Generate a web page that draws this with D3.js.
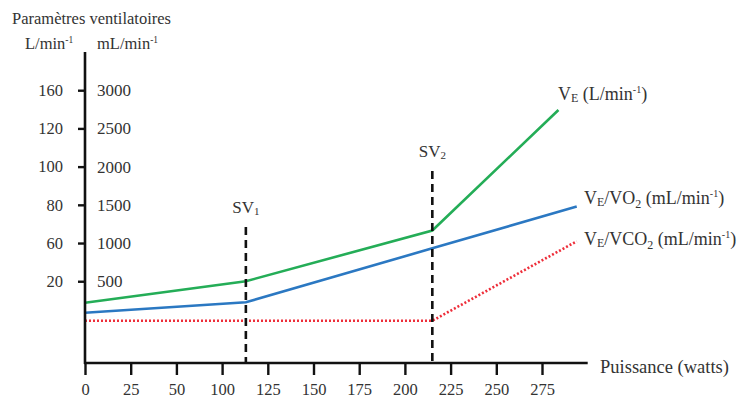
<!DOCTYPE html>
<html><head><meta charset="utf-8">
<script src="https://cdn.jsdelivr.net/npm/d3@7"></script>
</head>
<body style="margin:0">
<svg id="c" width="745" height="404"></svg>
<script>
// Data (x in watts as labelled, y in mL/min units of the right scale)
const xTicks = [0,25,50,100,125,150,175,200,225,250,275];
const yTicksML = [500,1000,1500,2000,2500,3000];
const yTicksL = [20,60,80,100,120,160];
const watts = [0,113,215,284];
const ve = [219,500,1164,2741];
const wattsVO2 = [0,113,215,294];
const veVO2 = [88,224,931,1478];
const wattsVCO2 = [0,113,215,294];
const veVCO2 = [-17,-17,-17,1023];
const thresholds = [{name:"SV",sub:"1",w:113},{name:"SV",sub:"2",w:215}];

const FONT = '"Liberation Serif"';
const TXT = "#333";
const svg = d3.select("#c");
const x0 = 85, step = 45.7;
const x = d3.scaleLinear().domain([0,50,100,275]).range([x0, x0+2*step, x0+3*step, x0+10*step]);
const y = d3.scaleLinear().domain([-570,3500]).range([363,52]);
const axisY = y(-570);

// lines
const line = d3.line().x(d=>x(d[0])).y(d=>y(d[1]));
svg.append("path").datum(wattsVCO2.map((w,i)=>[w,veVCO2[i]])).attr("d",line)
  .attr("fill","none").attr("stroke","#ee2e3a").attr("stroke-width",2.6).attr("stroke-dasharray","2,2");
svg.append("path").datum(wattsVO2.map((w,i)=>[w,veVO2[i]])).attr("d",line)
  .attr("fill","none").attr("stroke","#2b78c2").attr("stroke-width",2.6);
svg.append("path").datum(watts.map((w,i)=>[w,ve[i]])).attr("d",line)
  .attr("fill","none").attr("stroke","#24ad57").attr("stroke-width",2.6);

// thresholds
const thTop = [227,171];
thresholds.forEach((t,i)=>{
  svg.append("line").attr("x1",x(t.w)).attr("x2",x(t.w)).attr("y1",thTop[i]).attr("y2",axisY)
    .attr("stroke","#111").attr("stroke-width",2.6).attr("stroke-dasharray","8,5");
  const tx = svg.append("text").attr("x",x(t.w)).attr("y",thTop[i]-14).attr("text-anchor","middle")
    .style("font-size","17px");
  tx.append("tspan").text(t.name);
  tx.append("tspan").style("font-size","11px").attr("dy",2).text(t.sub);
});

// x axis
const xAxis = d3.axisBottom(x).tickValues(xTicks).tickFormat(d3.format("d")).tickSize(12).tickPadding(8).tickSizeOuter(0);
const gx = svg.append("g").attr("transform",`translate(0,${axisY})`).call(xAxis);
gx.attr("font-family",null).attr("font-size",null);
gx.select(".domain").remove();
gx.append("line").attr("x1",x0-1).attr("x2",x(300)).attr("stroke","#111").attr("stroke-width",2.6);
gx.selectAll(".tick line").attr("stroke","#111").attr("stroke-width",2.4);
gx.selectAll(".tick text").style("font-size","16.5px");

// y axis left
const yAxis = d3.axisLeft(y).tickValues(yTicksML).tickFormat((d,i)=>yTicksL[i]).tickSize(7).tickPadding(15).tickSizeOuter(0);
const gy = svg.append("g").attr("transform",`translate(${x0},0)`).call(yAxis);
gy.attr("font-family",null).attr("font-size",null);
gy.select(".domain").remove();
gy.append("line").attr("y1",y(3500)).attr("y2",axisY+1).attr("stroke","#111").attr("stroke-width",2.6);
gy.selectAll(".tick line").attr("stroke","#111").attr("stroke-width",2.4);
gy.selectAll(".tick text").style("font-size","16.5px");

// y labels right
const gy2 = svg.append("g").attr("transform",`translate(${x0},0)`)
  .call(d3.axisRight(y).tickValues(yTicksML).tickFormat(d3.format("d")).tickSize(0).tickPadding(12));
gy2.attr("font-family",null).attr("font-size",null);
gy2.select(".domain").remove();
gy2.selectAll(".tick text").style("font-size","17px");

// titles
svg.append("text").attr("x",12).attr("y",24).style("font-size","16.5px").text("Paramètres ventilatoires");
function unitLabel(xp, yp, base){
  const t = svg.append("text").attr("x",xp).attr("y",yp).style("font-size","16.5px");
  t.append("tspan").text(base);
  t.append("tspan").style("font-size","9.5px").attr("dy",-6).text("-1");
  return t;
}
unitLabel(25,49,"L/min");
unitLabel(97,49,"mL/min");

svg.append("text").attr("x",600).attr("y",373).style("font-size","18.5px").text("Puissance (watts)");

// series labels
function seriesLabel(xp, yp, parts){
  const t = svg.append("text").attr("x",xp).attr("y",yp).style("font-size","18px");
  parts.forEach(p=>{
    const s = t.append("tspan").text(p.t);
    if(p.sub){ s.style("font-size","12px").attr("dy",p.dy||2); }
    else if(p.sup){ s.style("font-size","10px").attr("dy",-7); }
    else if(p.dy){ s.attr("dy",p.dy); }
  });
}
seriesLabel(558,100,[{t:"V"},{t:"E",sub:1},{t:" (L/min",dy:-2},{t:"-1",sup:1},{t:")",dy:7}]);
seriesLabel(584,204,[{t:"V"},{t:"E",sub:1},{t:"/VO",dy:-2},{t:"2",sub:1,dy:4},{t:" (mL/min",dy:-4},{t:"-1",sup:1},{t:")",dy:7}]);
seriesLabel(584,245,[{t:"V"},{t:"E",sub:1},{t:"/VCO",dy:-2},{t:"2",sub:1,dy:4},{t:" (mL/min",dy:-4},{t:"-1",sup:1},{t:")",dy:7}]);

svg.selectAll("text").style("font-family",FONT).attr("fill",TXT);
</script></body></html>
